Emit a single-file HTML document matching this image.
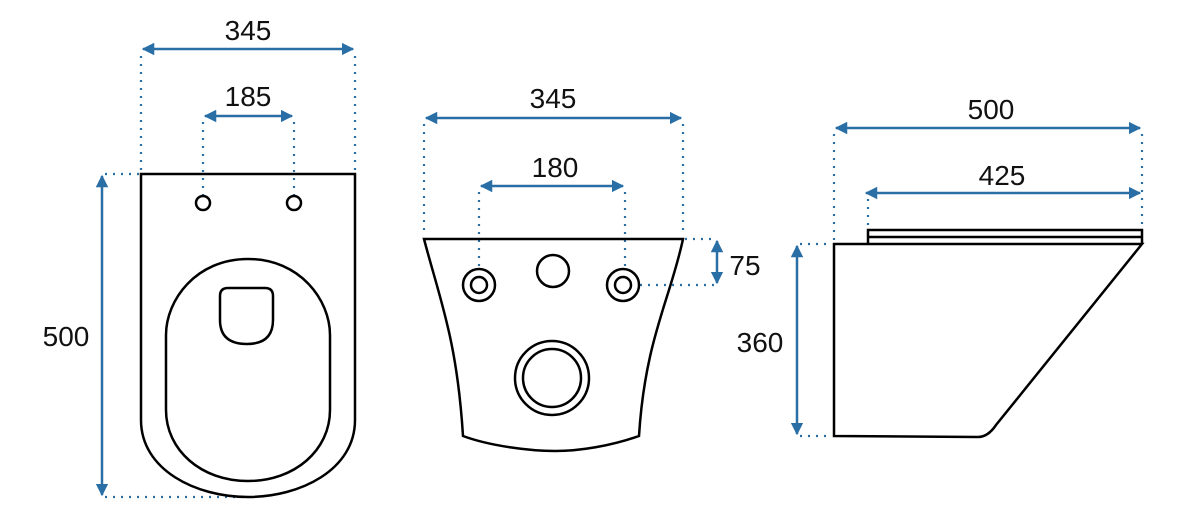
<!DOCTYPE html>
<html><head><meta charset="utf-8"><style>html,body{margin:0;padding:0;background:#fff}svg{display:block}</style></head>
<body>
<svg width="1180" height="529" viewBox="0 0 1180 529" xmlns="http://www.w3.org/2000/svg">
<defs>
<marker id="a" viewBox="0 0 10 10" refX="9" refY="5" markerWidth="5" markerHeight="5" orient="auto-start-reverse"><path d="M0,0 L10,5 L0,10 z" fill="#2a6ea6"/></marker>
</defs>
<g font-family="Liberation Sans, sans-serif" font-size="28" fill="#111" text-anchor="middle">
<text x="248" y="40">345</text>
<text x="248" y="106">185</text>
<text x="66" y="346">500</text>
<text x="553" y="108">345</text>
<text x="555" y="177">180</text>
<text x="745" y="275">75</text>
<text x="991" y="119">500</text>
<text x="1002" y="185">425</text>
<text x="760" y="352">360</text>
</g>
<g stroke="#2a6ea6" stroke-width="2.5" fill="none" marker-start="url(#a)" marker-end="url(#a)">
<line x1="143" y1="49" x2="353" y2="49"/>
<line x1="205" y1="116" x2="292" y2="116"/>
<line x1="102" y1="176" x2="102" y2="495"/>
<line x1="426" y1="118" x2="681" y2="118"/>
<line x1="481" y1="186" x2="623" y2="186"/>
<line x1="717" y1="241" x2="717" y2="283"/>
<line x1="836" y1="128" x2="1140" y2="128"/>
<line x1="866" y1="193" x2="1140" y2="193"/>
<line x1="797" y1="246" x2="797" y2="434"/>
</g>
<g stroke="#2a6ea6" stroke-width="2.2" stroke-dasharray="2 6" fill="none">
<line x1="141" y1="56" x2="141" y2="172"/><line x1="355" y1="56" x2="355" y2="172"/>
<line x1="203" y1="122" x2="203" y2="195"/><line x1="294" y1="122" x2="294" y2="195"/>
<line x1="105" y1="174" x2="140" y2="174"/><line x1="105" y1="497" x2="248" y2="497"/>
<line x1="424" y1="124" x2="424" y2="236"/><line x1="683" y1="124" x2="683" y2="236"/>
<line x1="479" y1="192" x2="479" y2="268"/><line x1="625" y1="192" x2="625" y2="268"/>
<line x1="685" y1="239" x2="717" y2="239"/><line x1="640" y1="285" x2="717" y2="285"/>
<line x1="834" y1="134" x2="834" y2="242"/><line x1="1142" y1="134" x2="1142" y2="226"/>
<line x1="868" y1="199" x2="868" y2="228"/>
<line x1="800" y1="244" x2="832" y2="244"/><line x1="800" y1="436" x2="832" y2="436"/>
</g>
<g stroke="#000" stroke-width="2.5" fill="none">
<path d="M141,174 H355 V420 C355,470 300,497 248,497 C196,497 141,470 141,420 Z"/>
<circle cx="203" cy="203" r="7"/><circle cx="294" cy="203" r="7"/>
<path d="M248,259 C300,259 330,300 330,335 V410 C330,450 295,481 248,481 C201,481 166,450 166,410 V335 C166,300 196,259 248,259 Z"/>
<path d="M228,288 H265 Q273,288 273,296 V320 Q273,344 247,344 Q220,344 220,320 V296 Q220,288 228,288 Z"/>
<path d="M424,239 H683 C670,300 645,340 639,436 C610,446 580,451 555,451 C530,451 490,446 463,436 C457,340 440,300 424,239 Z"/>
<circle cx="479" cy="285" r="16"/><circle cx="479" cy="285" r="8"/>
<circle cx="623" cy="285" r="16"/><circle cx="623" cy="285" r="8"/>
<circle cx="553" cy="271" r="16"/>
<circle cx="552" cy="378" r="37"/><circle cx="552" cy="378" r="29"/>
<path d="M834,244 H1142 L996,425 Q988,437 978,437 L834,436 Z"/>
<path d="M868,244 V230 H1142 V244 M868,237 H1142"/>
</g>
</svg>
</body></html>
